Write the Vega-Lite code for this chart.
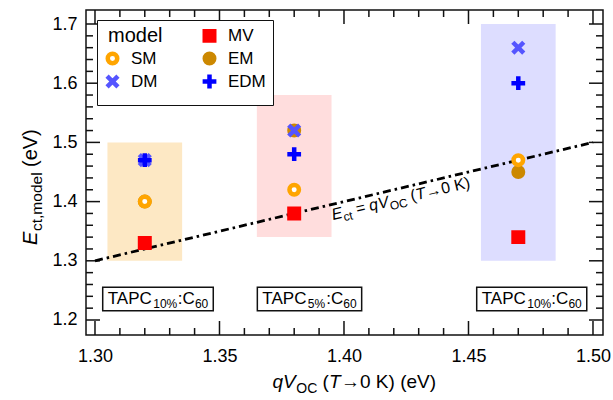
{
  "$schema": "https://vega.github.io/schema/vega-lite/v6.json",
  "width": 517,
  "height": 325,
  "autosize": "none",
  "padding": {"left": 86, "top": 10, "right": 10, "bottom": 65},
  "background": "white",
  "config": {
    "view": {"stroke": "#111111", "strokeWidth": 1.5},
    "font": "Liberation Sans",
    "axis": {"domain": false, "ticks": false, "grid": false, "labelFlush": false, "labelOverlap": false, "labelFont": "Liberation Sans", "labelFontSize": 18, "labelColor": "black"},
    "text": {"font": "Liberation Sans", "color": "black"}
  },
  "datasets": {
    "ranges": [
      {"group": "A", "xlo": 1.305, "xhi": 1.335, "ylo": 1.30, "yhi": 1.50},
      {"group": "B", "xlo": 1.365, "xhi": 1.395, "ylo": 1.34, "yhi": 1.58},
      {"group": "C", "xlo": 1.455, "xhi": 1.485, "ylo": 1.30, "yhi": 1.70}
    ],
    "xmajor": [{"v": 1.30}, {"v": 1.35}, {"v": 1.40}, {"v": 1.45}, {"v": 1.50}],
    "xminor": [{"v": 1.31}, {"v": 1.32}, {"v": 1.33}, {"v": 1.34}, {"v": 1.36}, {"v": 1.37}, {"v": 1.38}, {"v": 1.39}, {"v": 1.41}, {"v": 1.42}, {"v": 1.43}, {"v": 1.44}, {"v": 1.46}, {"v": 1.47}, {"v": 1.48}, {"v": 1.49}],
    "ymajor": [{"v": 1.2}, {"v": 1.3}, {"v": 1.4}, {"v": 1.5}, {"v": 1.6}, {"v": 1.7}],
    "yminor": [{"v": 1.22}, {"v": 1.24}, {"v": 1.26}, {"v": 1.28}, {"v": 1.32}, {"v": 1.34}, {"v": 1.36}, {"v": 1.38}, {"v": 1.42}, {"v": 1.44}, {"v": 1.46}, {"v": 1.48}, {"v": 1.52}, {"v": 1.54}, {"v": 1.56}, {"v": 1.58}, {"v": 1.62}, {"v": 1.64}, {"v": 1.66}, {"v": 1.68}],
    "diag": [
      {"qvoc": 1.30, "ect": 1.30},
      {"qvoc": 1.50, "ect": 1.50}
    ],
    "points": [
      {"group": "A", "qvoc": 1.32, "model": "EM", "ect": 1.40},
      {"group": "B", "qvoc": 1.38, "model": "EM", "ect": 1.52},
      {"group": "C", "qvoc": 1.47, "model": "EM", "ect": 1.45},
      {"group": "A", "qvoc": 1.32, "model": "MV", "ect": 1.33},
      {"group": "B", "qvoc": 1.38, "model": "MV", "ect": 1.38},
      {"group": "C", "qvoc": 1.47, "model": "MV", "ect": 1.34},
      {"group": "A", "qvoc": 1.32, "model": "SM", "ect": 1.40},
      {"group": "B", "qvoc": 1.38, "model": "SM", "ect": 1.42},
      {"group": "C", "qvoc": 1.47, "model": "SM", "ect": 1.47},
      {"group": "A", "qvoc": 1.32, "model": "DM", "ect": 1.47},
      {"group": "B", "qvoc": 1.38, "model": "DM", "ect": 1.52},
      {"group": "C", "qvoc": 1.47, "model": "DM", "ect": 1.66},
      {"group": "A", "qvoc": 1.32, "model": "EDM", "ect": 1.47},
      {"group": "B", "qvoc": 1.38, "model": "EDM", "ect": 1.48},
      {"group": "C", "qvoc": 1.47, "model": "EDM", "ect": 1.60}
    ],
    "boxes": [
      {"group": "A", "pct": "10%", "bx1": 1.3031, "bx2": 1.3475, "by1": 1.2157, "by2": 1.2552},
      {"group": "B", "pct": "5%", "bx1": 1.3652, "bx2": 1.4071, "by1": 1.2157, "by2": 1.2552},
      {"group": "C", "pct": "10%", "bx1": 1.4533, "bx2": 1.4975, "by1": 1.2157, "by2": 1.2552}
    ],
    "one": [{}]
  },
  "resolve": {"axis": {"x": "independent", "y": "independent"}},
  "layer": [
    {
      "data": {"name": "ranges"},
      "mark": {"type": "rect"},
      "encoding": {
        "x": {"field": "xlo", "type": "quantitative", "scale": {"domain": [1.29639, 1.50402], "nice": false, "zero": false},
              "axis": {"orient": "bottom", "title": null, "values": [1.30, 1.35, 1.40, 1.45, 1.50], "format": ".2f", "labelPadding": 12}},
        "x2": {"field": "xhi"},
        "y": {"field": "ylo", "type": "quantitative", "scale": {"domain": [1.17466, 1.72365], "nice": false, "zero": false},
              "axis": {"orient": "left", "title": null, "values": [1.2, 1.3, 1.4, 1.5, 1.6, 1.7], "format": ".1f", "labelPadding": 9}},
        "y2": {"field": "yhi"},
        "color": {"field": "group", "type": "nominal", "scale": {"domain": ["A", "B", "C"], "range": ["#fde8c4", "#ffdddd", "#ddddff"]}, "legend": null}
      }
    },
    {
      "data": {"name": "xmajor"},
      "mark": {"type": "tick", "orient": "vertical", "size": 28, "thickness": 1.5, "color": "#111111", "opacity": 1, "clip": true},
      "encoding": {
        "x": {"field": "v", "type": "quantitative", "scale": {"domain": [1.29639, 1.50402], "nice": false, "zero": false}, "axis": null},
        "y": {"datum": 1.17466, "type": "quantitative", "scale": {"domain": [1.17466, 1.72365], "nice": false, "zero": false}, "axis": null}
      }
    },
    {
      "data": {"name": "xmajor"},
      "mark": {"type": "tick", "orient": "vertical", "size": 28, "thickness": 1.5, "color": "#111111", "opacity": 1, "clip": true},
      "encoding": {
        "x": {"field": "v", "type": "quantitative", "scale": {"domain": [1.29639, 1.50402], "nice": false, "zero": false}, "axis": null},
        "y": {"datum": 1.72365, "type": "quantitative", "scale": {"domain": [1.17466, 1.72365], "nice": false, "zero": false}, "axis": null}
      }
    },
    {
      "data": {"name": "xminor"},
      "mark": {"type": "tick", "orient": "vertical", "size": 14, "thickness": 1.5, "color": "#111111", "opacity": 1, "clip": true},
      "encoding": {
        "x": {"field": "v", "type": "quantitative", "scale": {"domain": [1.29639, 1.50402], "nice": false, "zero": false}, "axis": null},
        "y": {"datum": 1.17466, "type": "quantitative", "scale": {"domain": [1.17466, 1.72365], "nice": false, "zero": false}, "axis": null}
      }
    },
    {
      "data": {"name": "xminor"},
      "mark": {"type": "tick", "orient": "vertical", "size": 14, "thickness": 1.5, "color": "#111111", "opacity": 1, "clip": true},
      "encoding": {
        "x": {"field": "v", "type": "quantitative", "scale": {"domain": [1.29639, 1.50402], "nice": false, "zero": false}, "axis": null},
        "y": {"datum": 1.72365, "type": "quantitative", "scale": {"domain": [1.17466, 1.72365], "nice": false, "zero": false}, "axis": null}
      }
    },
    {
      "data": {"name": "ymajor"},
      "mark": {"type": "tick", "orient": "horizontal", "size": 28, "thickness": 1.5, "color": "#111111", "opacity": 1, "clip": true},
      "encoding": {
        "y": {"field": "v", "type": "quantitative", "scale": {"domain": [1.17466, 1.72365], "nice": false, "zero": false}, "axis": null},
        "x": {"datum": 1.29639, "type": "quantitative", "scale": {"domain": [1.29639, 1.50402], "nice": false, "zero": false}, "axis": null}
      }
    },
    {
      "data": {"name": "ymajor"},
      "mark": {"type": "tick", "orient": "horizontal", "size": 28, "thickness": 1.5, "color": "#111111", "opacity": 1, "clip": true},
      "encoding": {
        "y": {"field": "v", "type": "quantitative", "scale": {"domain": [1.17466, 1.72365], "nice": false, "zero": false}, "axis": null},
        "x": {"datum": 1.50402, "type": "quantitative", "scale": {"domain": [1.29639, 1.50402], "nice": false, "zero": false}, "axis": null}
      }
    },
    {
      "data": {"name": "yminor"},
      "mark": {"type": "tick", "orient": "horizontal", "size": 14, "thickness": 1.5, "color": "#111111", "opacity": 1, "clip": true},
      "encoding": {
        "y": {"field": "v", "type": "quantitative", "scale": {"domain": [1.17466, 1.72365], "nice": false, "zero": false}, "axis": null},
        "x": {"datum": 1.29639, "type": "quantitative", "scale": {"domain": [1.29639, 1.50402], "nice": false, "zero": false}, "axis": null}
      }
    },
    {
      "data": {"name": "yminor"},
      "mark": {"type": "tick", "orient": "horizontal", "size": 14, "thickness": 1.5, "color": "#111111", "opacity": 1, "clip": true},
      "encoding": {
        "y": {"field": "v", "type": "quantitative", "scale": {"domain": [1.17466, 1.72365], "nice": false, "zero": false}, "axis": null},
        "x": {"datum": 1.50402, "type": "quantitative", "scale": {"domain": [1.29639, 1.50402], "nice": false, "zero": false}, "axis": null}
      }
    },
    {
      "data": {"name": "diag"},
      "mark": {"type": "line", "color": "black", "strokeWidth": 2.8, "strokeDash": [8, 4, 2.5, 4]},
      "encoding": {
        "x": {"field": "qvoc", "type": "quantitative", "scale": {"domain": [1.29639, 1.50402], "nice": false, "zero": false}, "axis": null},
        "y": {"field": "ect", "type": "quantitative", "scale": {"domain": [1.17466, 1.72365], "nice": false, "zero": false}, "axis": null}
      }
    },
    {
      "data": {"name": "points"},
      "mark": {"type": "point", "size": 90, "strokeWidth": 4.5, "opacity": 1, "filled": false},
      "encoding": {
        "x": {"field": "qvoc", "type": "quantitative", "scale": {"domain": [1.29639, 1.50402], "nice": false, "zero": false}, "axis": null},
        "y": {"field": "ect", "type": "quantitative", "scale": {"domain": [1.17466, 1.72365], "nice": false, "zero": false}, "axis": null},
        "fill": {"field": "model", "type": "nominal",
                 "scale": {"domain": ["model", "MV", "SM", "EM", "DM", "EDM"], "range": ["#ffffff", "#ff0000", "#ffffff", "#cc8800", "#5555ff", "#0000ff"]},
                 "legend": {"title": null, "orient": "none", "legendX": 11, "legendY": 10, "columns": 2, "direction": "horizontal", "fillColor": "white", "strokeColor": "#111111", "padding": 7, "cornerRadius": 0, "symbolSize": 90, "symbolStrokeWidth": 4.5, "symbolOpacity": 1, "labelFont": "Liberation Sans", "labelFontSize": {"expr": "datum.value == 'model' ? 20 : 17"}, "labelColor": "black", "labelOffset": {"expr": "datum.value == 'model' ? -13 : 10"}, "columnPadding": 30, "rowPadding": -11.5, "labelLimit": 200}},
        "stroke": {"field": "model", "type": "nominal",
                   "scale": {"domain": ["model", "MV", "SM", "EM", "DM", "EDM"], "range": ["#ffffff", "#ff0000", "#ffa500", "#cc8800", "#5555ff", "#0000ff"]},
                   "legend": {"title": null, "orient": "none", "legendX": 11, "legendY": 10, "columns": 2, "direction": "horizontal", "fillColor": "white", "strokeColor": "#111111", "padding": 7, "cornerRadius": 0, "symbolSize": 90, "symbolStrokeWidth": 4.5, "symbolOpacity": 1, "labelFont": "Liberation Sans", "labelFontSize": {"expr": "datum.value == 'model' ? 20 : 17"}, "labelColor": "black", "labelOffset": {"expr": "datum.value == 'model' ? -13 : 10"}, "columnPadding": 30, "rowPadding": -11.5, "labelLimit": 200}},
        "shape": {"field": "model", "type": "nominal",
                  "scale": {"domain": ["model", "MV", "SM", "EM", "DM", "EDM"], "range": ["circle", "square", "circle", "circle", "M-1.15,-1.15L1.15,1.15M-1.15,1.15L1.15,-1.15", "M-1.45,0L1.45,0M0,-1.45L0,1.45"]},
                  "legend": {"title": null, "orient": "none", "legendX": 11, "legendY": 10, "columns": 2, "direction": "horizontal", "fillColor": "white", "strokeColor": "#111111", "padding": 7, "cornerRadius": 0, "symbolSize": 90, "symbolStrokeWidth": 4.5, "symbolOpacity": 1, "labelFont": "Liberation Sans", "labelFontSize": {"expr": "datum.value == 'model' ? 20 : 17"}, "labelColor": "black", "labelOffset": {"expr": "datum.value == 'model' ? -13 : 10"}, "columnPadding": 30, "rowPadding": -11.5, "labelLimit": 200}}
      }
    },
    {
      "data": {"name": "boxes"},
      "mark": {"type": "rect", "fill": "white", "stroke": "#111111", "strokeWidth": 1.5},
      "encoding": {
        "x": {"field": "bx1", "type": "quantitative", "scale": {"domain": [1.29639, 1.50402], "nice": false, "zero": false}, "axis": null},
        "x2": {"field": "bx2"},
        "y": {"field": "by1", "type": "quantitative", "scale": {"domain": [1.17466, 1.72365], "nice": false, "zero": false}, "axis": null},
        "y2": {"field": "by2"}
      }
    },
    {
      "data": {"name": "boxes"},
      "mark": {"type": "text", "text": "TAPC", "fontSize": 17, "align": "left", "baseline": "alphabetic", "dx": 5, "dy": -7},
      "encoding": {
        "x": {"field": "bx1", "type": "quantitative", "scale": {"domain": [1.29639, 1.50402], "nice": false, "zero": false}, "axis": null},
        "y": {"field": "by1", "type": "quantitative", "scale": {"domain": [1.17466, 1.72365], "nice": false, "zero": false}, "axis": null}
      }
    },
    {
      "data": {"name": "boxes"},
      "mark": {"type": "text", "fontSize": 12, "align": "left", "baseline": "alphabetic", "dx": 50.5, "dy": -3},
      "encoding": {
        "x": {"field": "bx1", "type": "quantitative", "scale": {"domain": [1.29639, 1.50402], "nice": false, "zero": false}, "axis": null},
        "y": {"field": "by1", "type": "quantitative", "scale": {"domain": [1.17466, 1.72365], "nice": false, "zero": false}, "axis": null},
        "text": {"field": "pct"}
      }
    },
    {
      "data": {"name": "boxes"},
      "mark": {"type": "text", "text": ":C", "fontSize": 17, "align": "right", "baseline": "alphabetic", "dx": -18.5, "dy": -7},
      "encoding": {
        "x": {"field": "bx2", "type": "quantitative", "scale": {"domain": [1.29639, 1.50402], "nice": false, "zero": false}, "axis": null},
        "y": {"field": "by1", "type": "quantitative", "scale": {"domain": [1.17466, 1.72365], "nice": false, "zero": false}, "axis": null}
      }
    },
    {
      "data": {"name": "boxes"},
      "mark": {"type": "text", "text": "60", "fontSize": 12, "align": "right", "baseline": "alphabetic", "dx": -5, "dy": -3},
      "encoding": {
        "x": {"field": "bx2", "type": "quantitative", "scale": {"domain": [1.29639, 1.50402], "nice": false, "zero": false}, "axis": null},
        "y": {"field": "by1", "type": "quantitative", "scale": {"domain": [1.17466, 1.72365], "nice": false, "zero": false}, "axis": null}
      }
    },
    {
      "data": {"name": "one"},
      "mark": {"type": "text", "text": "q", "fontSize": 19, "fontStyle": "italic", "align": "left", "baseline": "alphabetic", "dx": 0},
      "encoding": {
        "x": {"datum": 1.37129, "type": "quantitative", "scale": {"domain": [1.29639, 1.50402], "nice": false, "zero": false}, "axis": null},
        "y": {"datum": 1.08514, "type": "quantitative", "scale": {"domain": [1.17466, 1.72365], "nice": false, "zero": false}, "axis": null}
      }
    },
    {
      "data": {"name": "one"},
      "mark": {"type": "text", "text": "V", "fontSize": 19, "fontStyle": "italic", "align": "left", "baseline": "alphabetic", "dx": 10.6},
      "encoding": {
        "x": {"datum": 1.37129, "type": "quantitative", "scale": {"domain": [1.29639, 1.50402], "nice": false, "zero": false}, "axis": null},
        "y": {"datum": 1.08514, "type": "quantitative", "scale": {"domain": [1.17466, 1.72365], "nice": false, "zero": false}, "axis": null}
      }
    },
    {
      "data": {"name": "one"},
      "mark": {"type": "text", "text": "OC", "fontSize": 14, "align": "left", "baseline": "alphabetic", "dx": 23.8, "dy": 5},
      "encoding": {
        "x": {"datum": 1.37129, "type": "quantitative", "scale": {"domain": [1.29639, 1.50402], "nice": false, "zero": false}, "axis": null},
        "y": {"datum": 1.08514, "type": "quantitative", "scale": {"domain": [1.17466, 1.72365], "nice": false, "zero": false}, "axis": null}
      }
    },
    {
      "data": {"name": "one"},
      "mark": {"type": "text", "text": "(", "fontSize": 19, "align": "left", "baseline": "alphabetic", "dx": 50},
      "encoding": {
        "x": {"datum": 1.37129, "type": "quantitative", "scale": {"domain": [1.29639, 1.50402], "nice": false, "zero": false}, "axis": null},
        "y": {"datum": 1.08514, "type": "quantitative", "scale": {"domain": [1.17466, 1.72365], "nice": false, "zero": false}, "axis": null}
      }
    },
    {
      "data": {"name": "one"},
      "mark": {"type": "text", "text": "T", "fontSize": 19, "fontStyle": "italic", "align": "left", "baseline": "alphabetic", "dx": 56.5},
      "encoding": {
        "x": {"datum": 1.37129, "type": "quantitative", "scale": {"domain": [1.29639, 1.50402], "nice": false, "zero": false}, "axis": null},
        "y": {"datum": 1.08514, "type": "quantitative", "scale": {"domain": [1.17466, 1.72365], "nice": false, "zero": false}, "axis": null}
      }
    },
    {
      "data": {"name": "one"},
      "mark": {"type": "text", "text": "→0 K) (eV)", "fontSize": 19, "align": "left", "baseline": "alphabetic", "dx": 68.5},
      "encoding": {
        "x": {"datum": 1.37129, "type": "quantitative", "scale": {"domain": [1.29639, 1.50402], "nice": false, "zero": false}, "axis": null},
        "y": {"datum": 1.08514, "type": "quantitative", "scale": {"domain": [1.17466, 1.72365], "nice": false, "zero": false}, "axis": null}
      }
    },
    {
      "data": {"name": "one"},
      "mark": {"type": "text", "text": "E", "fontSize": 20, "fontStyle": "italic", "angle": 270, "align": "left", "baseline": "alphabetic", "dx": 0},
      "encoding": {
        "x": {"datum": 1.27671, "type": "quantitative", "scale": {"domain": [1.29639, 1.50402], "nice": false, "zero": false}, "axis": null},
        "y": {"datum": 1.32669, "type": "quantitative", "scale": {"domain": [1.17466, 1.72365], "nice": false, "zero": false}, "axis": null}
      }
    },
    {
      "data": {"name": "one"},
      "mark": {"type": "text", "text": "ct,model", "fontSize": 15.5, "angle": 270, "align": "left", "baseline": "alphabetic", "dx": 14, "dy": 5},
      "encoding": {
        "x": {"datum": 1.27671, "type": "quantitative", "scale": {"domain": [1.29639, 1.50402], "nice": false, "zero": false}, "axis": null},
        "y": {"datum": 1.32669, "type": "quantitative", "scale": {"domain": [1.17466, 1.72365], "nice": false, "zero": false}, "axis": null}
      }
    },
    {
      "data": {"name": "one"},
      "mark": {"type": "text", "text": "(eV)", "fontSize": 20, "angle": 270, "align": "left", "baseline": "alphabetic", "dx": 78},
      "encoding": {
        "x": {"datum": 1.27671, "type": "quantitative", "scale": {"domain": [1.29639, 1.50402], "nice": false, "zero": false}, "axis": null},
        "y": {"datum": 1.32669, "type": "quantitative", "scale": {"domain": [1.17466, 1.72365], "nice": false, "zero": false}, "axis": null}
      }
    },
    {
      "data": {"name": "one"},
      "mark": {"type": "text", "text": "E", "fontSize": 16, "fontStyle": "italic", "angle": 346.63, "align": "left", "baseline": "alphabetic", "dx": 0},
      "encoding": {
        "x": {"datum": 1.39558, "type": "quantitative", "scale": {"domain": [1.29639, 1.50402], "nice": false, "zero": false}, "axis": null},
        "y": {"datum": 1.36892, "type": "quantitative", "scale": {"domain": [1.17466, 1.72365], "nice": false, "zero": false}, "axis": null}
      }
    },
    {
      "data": {"name": "one"},
      "mark": {"type": "text", "text": "ct", "fontSize": 12, "angle": 346.63, "align": "left", "baseline": "alphabetic", "dx": 10.9, "dy": 4},
      "encoding": {
        "x": {"datum": 1.39558, "type": "quantitative", "scale": {"domain": [1.29639, 1.50402], "nice": false, "zero": false}, "axis": null},
        "y": {"datum": 1.36892, "type": "quantitative", "scale": {"domain": [1.17466, 1.72365], "nice": false, "zero": false}, "axis": null}
      }
    },
    {
      "data": {"name": "one"},
      "mark": {"type": "text", "text": "=", "fontSize": 16, "angle": 346.63, "align": "left", "baseline": "alphabetic", "dx": 25},
      "encoding": {
        "x": {"datum": 1.39558, "type": "quantitative", "scale": {"domain": [1.29639, 1.50402], "nice": false, "zero": false}, "axis": null},
        "y": {"datum": 1.36892, "type": "quantitative", "scale": {"domain": [1.17466, 1.72365], "nice": false, "zero": false}, "axis": null}
      }
    },
    {
      "data": {"name": "one"},
      "mark": {"type": "text", "text": "q", "fontSize": 16, "fontStyle": "italic", "angle": 346.63, "align": "left", "baseline": "alphabetic", "dx": 38.4},
      "encoding": {
        "x": {"datum": 1.39558, "type": "quantitative", "scale": {"domain": [1.29639, 1.50402], "nice": false, "zero": false}, "axis": null},
        "y": {"datum": 1.36892, "type": "quantitative", "scale": {"domain": [1.17466, 1.72365], "nice": false, "zero": false}, "axis": null}
      }
    },
    {
      "data": {"name": "one"},
      "mark": {"type": "text", "text": "V", "fontSize": 16, "fontStyle": "italic", "angle": 346.63, "align": "left", "baseline": "alphabetic", "dx": 47.5},
      "encoding": {
        "x": {"datum": 1.39558, "type": "quantitative", "scale": {"domain": [1.29639, 1.50402], "nice": false, "zero": false}, "axis": null},
        "y": {"datum": 1.36892, "type": "quantitative", "scale": {"domain": [1.17466, 1.72365], "nice": false, "zero": false}, "axis": null}
      }
    },
    {
      "data": {"name": "one"},
      "mark": {"type": "text", "text": "OC", "fontSize": 12, "angle": 346.63, "align": "left", "baseline": "alphabetic", "dx": 58.7, "dy": 4},
      "encoding": {
        "x": {"datum": 1.39558, "type": "quantitative", "scale": {"domain": [1.29639, 1.50402], "nice": false, "zero": false}, "axis": null},
        "y": {"datum": 1.36892, "type": "quantitative", "scale": {"domain": [1.17466, 1.72365], "nice": false, "zero": false}, "axis": null}
      }
    },
    {
      "data": {"name": "one"},
      "mark": {"type": "text", "text": "(", "fontSize": 16, "angle": 346.63, "align": "left", "baseline": "alphabetic", "dx": 81},
      "encoding": {
        "x": {"datum": 1.39558, "type": "quantitative", "scale": {"domain": [1.29639, 1.50402], "nice": false, "zero": false}, "axis": null},
        "y": {"datum": 1.36892, "type": "quantitative", "scale": {"domain": [1.17466, 1.72365], "nice": false, "zero": false}, "axis": null}
      }
    },
    {
      "data": {"name": "one"},
      "mark": {"type": "text", "text": "T", "fontSize": 16, "fontStyle": "italic", "angle": 346.63, "align": "left", "baseline": "alphabetic", "dx": 86.4},
      "encoding": {
        "x": {"datum": 1.39558, "type": "quantitative", "scale": {"domain": [1.29639, 1.50402], "nice": false, "zero": false}, "axis": null},
        "y": {"datum": 1.36892, "type": "quantitative", "scale": {"domain": [1.17466, 1.72365], "nice": false, "zero": false}, "axis": null}
      }
    },
    {
      "data": {"name": "one"},
      "mark": {"type": "text", "text": "→0 K)", "fontSize": 16, "angle": 346.63, "align": "left", "baseline": "alphabetic", "dx": 96.5},
      "encoding": {
        "x": {"datum": 1.39558, "type": "quantitative", "scale": {"domain": [1.29639, 1.50402], "nice": false, "zero": false}, "axis": null},
        "y": {"datum": 1.36892, "type": "quantitative", "scale": {"domain": [1.17466, 1.72365], "nice": false, "zero": false}, "axis": null}
      }
    }
  ]
}
